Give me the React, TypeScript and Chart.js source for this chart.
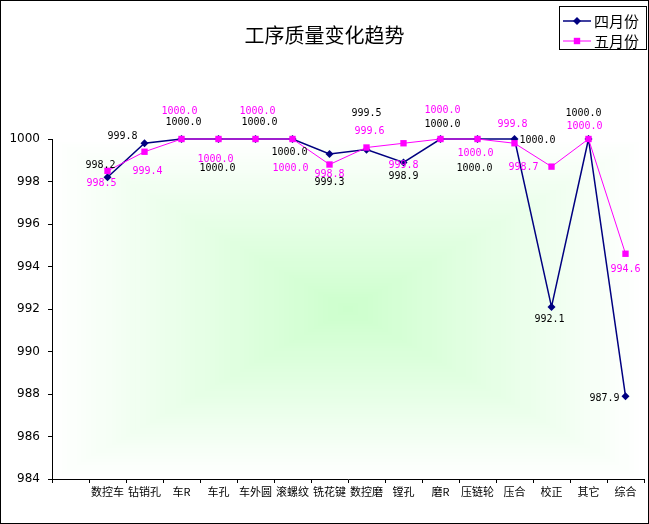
import { useEffect, useRef } from 'react'
import { Chart, registerables } from 'chart.js'

Chart.register(...registerables)

const title = '工序质量变化趋势'
const categories = ['数控车', '钻销孔', '车R', '车孔', '车外圆', '滚螺纹', '铣花键', '数控磨', '镗孔', '磨R', '压链轮', '压合', '校正', '其它', '综合']
const aprilName = '四月份'
const mayName = '五月份'
const april = [998.2, 999.8, 1000, 1000, 1000, 1000, 999.3, 999.5, 998.9, 1000, 1000, 1000, 992.1, 1000, 987.9]
const may = [998.5, 999.4, 1000, 1000, 1000, 1000, 998.8, 999.6, 999.8, 1000, 1000, 999.8, 998.7, 1000, 994.6]
const yMin = 984
const yMax = 1000
const yStep = 2

// label offsets from each point (px), roughly where Excel put them
const aprilLabelOffsets: [number, number][] = [
  [-7, -12], [-22, -7], [2, -17], [-1, 29], [4, -17], [-3, 13], [0, 29], [0, -36],
  [0, 14], [2, -15], [-3, 29], [23, 1], [-2, 13], [-5, -26], [-21, 2],
]
const mayLabelOffsets: [number, number][] = [
  [-6, 13], [3, 20], [-2, -28], [-3, 20], [2, -28], [-2, 29], [0, 10], [3, -16],
  [0, 22], [2, -29], [-2, 14], [-2, -19], [-28, 1], [-4, -13], [0, 16],
]

const NAVY = '#000080'
const MAGENTA = '#ff00ff'
const CJK = '"Noto Sans CJK SC", sans-serif'

function drawMarker(ctx: CanvasRenderingContext2D, style: string, x: number, y: number, color: string) {
  ctx.fillStyle = color
  ctx.beginPath()
  if (style === 'rectRot') {
    ctx.moveTo(x, y - 4)
    ctx.lineTo(x + 4, y)
    ctx.lineTo(x, y + 4)
    ctx.lineTo(x - 4, y)
    ctx.closePath()
  } else {
    ctx.rect(x - 3.2, y - 3.2, 6.4, 6.4)
  }
  ctx.fill()
}

export default function App() {
  const canvasRef = useRef<HTMLCanvasElement>(null)
  const chartRef = useRef<Chart | null>(null)

  useEffect(() => {
    if (!canvasRef.current) return
    if (chartRef.current) {
      chartRef.current.destroy()
      chartRef.current = null
    }

    const labelOffsets = [aprilLabelOffsets, mayLabelOffsets]
    const labelColors = ['#000', MAGENTA]

    chartRef.current = new Chart(canvasRef.current, {
      type: 'line',
      data: {
        labels: ['', ...categories],
        datasets: [
          {
            label: aprilName,
            data: [null, ...april],
            borderColor: NAVY,
            backgroundColor: NAVY,
            borderWidth: 1.5,
            pointStyle: 'rectRot',
            pointRadius: 4,
            pointBorderWidth: 0,
            pointBackgroundColor: NAVY,
            tension: 0,
            fill: false,
            clip: false,
            order: 1,
          },
          {
            label: mayName,
            data: [null, ...may],
            borderColor: MAGENTA,
            backgroundColor: MAGENTA,
            borderWidth: 1,
            pointStyle: 'rect',
            pointRadius: 4.5,
            pointBorderWidth: 0,
            pointBackgroundColor: MAGENTA,
            tension: 0,
            fill: false,
            clip: false,
            order: 0,
          },
        ],
      },
      options: {
        responsive: false,
        animation: false,
        layout: { padding: { top: 139, right: 5, left: 0, bottom: 0 } },
        plugins: {
          legend: { display: false },
          title: { display: false },
          tooltip: { enabled: false },
        },
        scales: {
          x: {
            offset: true,
            grid: { offset: true, drawOnChartArea: false, drawTicks: true, tickLength: 4, color: '#000' },
            border: { display: true, color: '#000', width: 1 },
            ticks: { autoSkip: false, maxRotation: 0, color: '#000', padding: 2, font: { family: CJK, size: 11 } },
            afterFit(scale) { scale.height = 45 },
          },
          y: {
            min: yMin,
            max: yMax,
            grid: { drawOnChartArea: false, drawTicks: true, tickLength: 4, color: '#000' },
            border: { display: true, color: '#000', width: 1 },
            ticks: {
              stepSize: yStep,
              color: '#000',
              padding: 8,
              font: { family: '"DejaVu Sans"', size: 12 },
              callback: (v) => String(v),
            },
            afterFit(scale) { scale.width = 52 },
          },
        },
      },
      plugins: [
        {
          id: 'excelDecor',
          beforeDraw(chart) {
            const { ctx, chartArea, width, height } = chart
            ctx.save()
            ctx.fillStyle = '#fff'
            ctx.fillRect(0, 0, width, height)
            // rectangular "from centre" gradient of the plot area
            const cx = (chartArea.left + chartArea.right) / 2
            const cy = (chartArea.top + chartArea.bottom) / 2
            const hw = (chartArea.right - chartArea.left) / 2
            const hh = (chartArea.bottom - chartArea.top) / 2
            const steps = 60
            for (let k = 0; k <= steps; k++) {
              const d = 1 - k / steps
              const r = Math.round(204 + (255 - 204) * d)
              ctx.fillStyle = `rgb(${r},255,${r})`
              ctx.fillRect(cx - hw * d, cy - hh * d, hw * d * 2, hh * d * 2)
            }
            ctx.fillStyle = '#000'
            ctx.font = `20px ${CJK}`
            ctx.textAlign = 'center'
            ctx.textBaseline = 'middle'
            ctx.fillText(title, width / 2, 35)
            ctx.strokeStyle = '#000'
            ctx.lineWidth = 1
            ctx.strokeRect(0.5, 0.5, width - 1, height - 1)
            ctx.restore()
          },
          afterDatasetsDraw(chart) {
            const { ctx } = chart
            ctx.save()
            ctx.font = '10px "DejaVu Sans Mono"'
            ctx.textAlign = 'center'
            ctx.textBaseline = 'middle'
            chart.data.datasets.forEach((ds, i) => {
              const meta = chart.getDatasetMeta(i)
              meta.data.forEach((el, j) => {
                const v = ds.data[j] as number | null
                if (v == null) return
                const [dx, dy] = labelOffsets[i][j - 1]
                ctx.fillStyle = labelColors[i]
                ctx.fillText(v.toFixed(1), el.x + dx, el.y + dy)
              })
            })

            // legend box
            ctx.strokeStyle = '#000'
            ctx.lineWidth = 1
            ctx.strokeRect(559.5, 6.5, 87, 43)
            ctx.font = `15px ${CJK}`
            ctx.textAlign = 'left'
            chart.data.datasets.forEach((ds, i) => {
              const y = 21 + i * 20
              const color = ds.borderColor as string
              ctx.strokeStyle = color
              ctx.lineWidth = i === 0 ? 1.5 : 1
              ctx.beginPath()
              ctx.moveTo(563, y)
              ctx.lineTo(591, y)
              ctx.stroke()
              drawMarker(ctx, i === 0 ? 'rectRot' : 'rect', 577, y, color)
              ctx.fillStyle = '#000'
              ctx.fillText(ds.label as string, 594, y)
            })
            ctx.restore()
          },
        },
      ],
    })

    return () => {
      chartRef.current?.destroy()
      chartRef.current = null
    }
  }, [])

  return (
    <div style={{ position: 'fixed', left: 0, top: 0, width: 649, height: 524 }}>
      <canvas ref={canvasRef} width={649} height={524} style={{ width: 649, height: 524 }} />
    </div>
  )
}
